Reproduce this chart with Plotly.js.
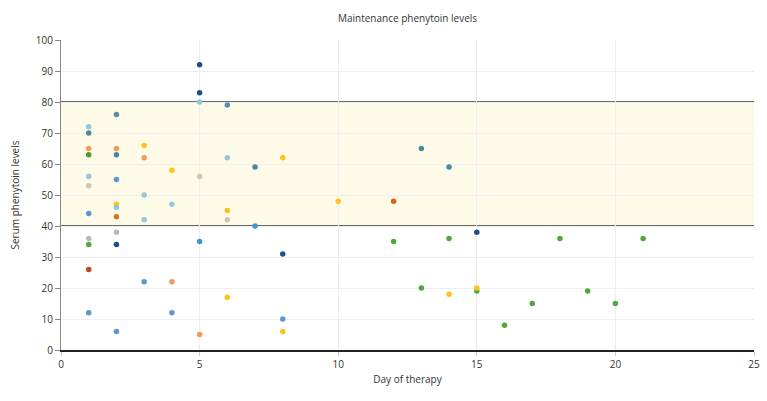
<!DOCTYPE html>
<html>
<head>
<meta charset="utf-8">
<script src="https://cdn.plot.ly/plotly-3.0.1.min.js"></script>
<style>html,body{margin:0;padding:0;background:#fff;}#chart{width:767px;height:401px;}</style>
</head>
<body>
<div id="chart"></div>
<script>
// Data (day of therapy, serum phenytoin level)
const greenX = [1, 12, 13, 14, 15, 16, 17, 18, 19, 20, 21];
const greenY = [34, 35, 20, 36, 19, 8, 15, 36, 19, 15, 36];
const oliveX = [1];
const oliveY = [63];
const yellowX = [2, 3, 4, 6, 6, 8, 8, 10, 14, 15];
const yellowY = [47, 66, 58, 45, 17, 62, 6, 48, 18, 20];
const tealX = [1, 2, 7, 13, 14];
const tealY = [70, 63, 59, 65, 59];
const steelX = [2, 6];
const steelY = [76, 79];
const lightBlueX = [1, 1, 2, 3, 3, 4, 5, 6];
const lightBlueY = [72, 56, 46, 50, 42, 47, 80, 62];
const peachX = [1, 2, 3, 4, 5];
const peachY = [65, 65, 62, 22, 5];
const beigeX = [1, 5, 6];
const beigeY = [53, 56, 42];
const grayX = [1, 2];
const grayY = [36, 38];
const blueX = [1, 1, 2, 2, 3, 4, 8];
const blueY = [44, 12, 55, 6, 22, 12, 10];
const midBlueX = [5, 7];
const midBlueY = [35, 40];
const rustX = [1, 2, 12];
const rustY = [26, 43, 48];
const navyX = [2, 5, 5, 8, 15];
const navyY = [34, 92, 83, 31, 38];

const rangeLow = 40;
const rangeHigh = 80;
const xTicks = [0, 5, 10, 15, 20, 25];
const yTicks = [0, 10, 20, 30, 40, 50, 60, 70, 80, 90, 100];

function series(x, y, color) {
  return {x: x, y: y, type: 'scatter', mode: 'markers', showlegend: false,
    hoverinfo: 'x+y', marker: {size: 5.5, color: color}};
}

const traces = [
  series(greenX, greenY, '#4fa83a'),
  series(oliveX, oliveY, '#5e8f34'),
  series(yellowX, yellowY, '#ffc21a'),
  series(tealX, tealY, '#4a8a9c'),
  series(steelX, steelY, '#5b8bb2'),
  series(lightBlueX, lightBlueY, '#93c8da'),
  series(peachX, peachY, '#f29a5c'),
  series(beigeX, beigeY, '#cdc7ad'),
  series(grayX, grayY, '#b9b9b9'),
  series(blueX, blueY, '#5b98d2'),
  series(midBlueX, midBlueY, '#3c98d2'),
  series(rustX, rustY, '#cc6a1c'),
  series(navyX, navyY, '#1d4f8c')
];
// day-1 low point is a redder rust tone
traces[11].marker.color = ['#b94a22', '#d0781a', '#d0651a'];

const font = 'Open Sans, Noto Sans, sans-serif';
const layout = {
  width: 767, height: 401,
  margin: {l: 61, r: 13, t: 40, b: 51},
  paper_bgcolor: '#fff', plot_bgcolor: '#fff',
  font: {family: font, size: 10, color: '#333'},
  title: {text: 'Maintenance phenytoin levels', x: 0.5, xref: 'paper', y: 0.955, yanchor: 'middle',
          font: {family: font, size: 10, color: '#333'}},
  xaxis: {range: [0, 25], tickvals: xTicks, showgrid: true, gridcolor: '#eeeeee', gridwidth: 1,
          zeroline: false, showline: true, linecolor: '#222', linewidth: 1.5,
          ticks: 'outside', ticklen: 4, tickcolor: '#ccc',
          tickfont: {size: 10, color: '#333'},
          title: {text: 'Day of therapy', font: {size: 10, color: '#333'}, standoff: 6}},
  yaxis: {range: [0, 100], tickvals: yTicks, showgrid: true, gridcolor: '#eeeeee', gridwidth: 1,
          zeroline: false, showline: true, linecolor: '#888', linewidth: 1,
          ticks: 'outside', ticklen: 5, tickcolor: '#888',
          tickfont: {size: 10, color: '#333'},
          title: {text: 'Serum phenytoin levels', font: {size: 10, color: '#333'}, standoff: 14}},
  shapes: [
    {type: 'rect', xref: 'paper', x0: 0, x1: 1, yref: 'y', y0: rangeLow, y1: rangeHigh,
     fillcolor: '#fdfbe7', line: {width: 0}, layer: 'below'},
    {type: 'line', xref: 'paper', x0: 0, x1: 1, yref: 'y', y0: rangeLow, y1: rangeLow,
     line: {color: '#3a3a3a', width: 1.5}, layer: 'below'},
    {type: 'line', xref: 'paper', x0: 0, x1: 1, yref: 'y', y0: rangeHigh, y1: rangeHigh,
     line: {color: '#3a3a3a', width: 1.5}, layer: 'below'}
  ]
};

Plotly.newPlot('chart', traces, layout, {displayModeBar: false, staticPlot: true});
</script>
</body>
</html>
